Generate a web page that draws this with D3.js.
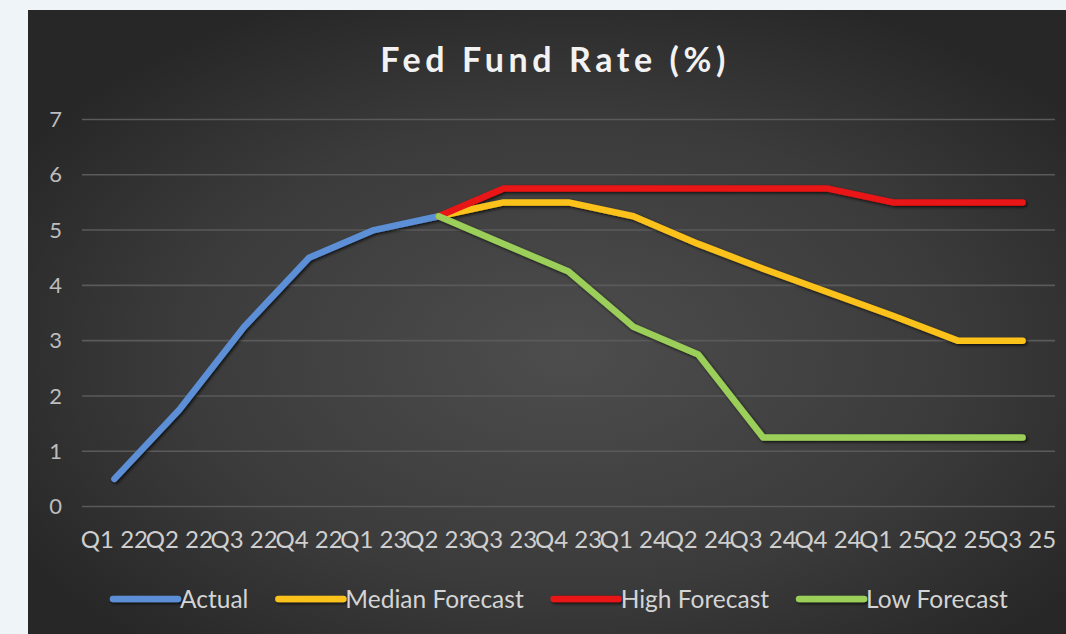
<!DOCTYPE html>
<html>
<head>
<meta charset="utf-8">
<script src="https://cdn.jsdelivr.net/npm/d3@7"></script>
<style>
  html, body { margin: 0; padding: 0; background: #eef4f8; }
  svg { display: block; }
</style>
</head>
<body>
<svg id="chart" width="1066" height="634"></svg>
<script>
// Quarterly fed funds rate: actual path and forecast ranges
const categories = ["Q1 22","Q2 22","Q3 22","Q4 22","Q1 23","Q2 23","Q3 23","Q4 23",
                    "Q1 24","Q2 24","Q3 24","Q4 24","Q1 25","Q2 25","Q3 25"];
const actual   = [0.5, 1.75, 3.25, 4.5, 5.0, 5.25, null, null, null, null, null, null, null, null, null];
const median   = [null, null, null, null, null, 5.25, 5.5, 5.5, 5.25, 4.75, 4.3, 3.875, 3.45, 3.0, 3.0];
const high     = [null, null, null, null, null, 5.25, 5.75, 5.75, 5.75, 5.75, 5.75, 5.75, 5.5, 5.5, 5.5];
const low      = [null, null, null, null, null, 5.25, 4.75, 4.25, 3.25, 2.75, 1.25, 1.25, 1.25, 1.25, 1.25];
const yTicks   = [0, 1, 2, 3, 4, 5, 6, 7];
const seriesNames  = ["Actual", "Median Forecast", "High Forecast", "Low Forecast"];
const seriesColors = ["#5b8fd6", "#fcc21c", "#e81414", "#9bcf5a"];
const seriesValues = [actual, median, high, low];

const svg = d3.select("#chart");
const W = 1066, H = 634;
const panel = { x: 28, y: 10, w: W - 28, h: H - 10 };
const plot = { left: 82, right: 1055, top: 119.5, bottom: 506.5 };
const font = "Lato, 'Open Sans', sans-serif";

const defs = svg.append("defs");
const grad = defs.append("radialGradient")
  .attr("id", "bg").attr("cx", "52%").attr("cy", "55%").attr("r", "62%");
grad.append("stop").attr("offset", "0%").attr("stop-color", "#4d4d4d");
grad.append("stop").attr("offset", "60%").attr("stop-color", "#3b3b3b");
grad.append("stop").attr("offset", "100%").attr("stop-color", "#272727");

// soft drop shadow under the series strokes (user-space region so flat lines keep it)
const shadow = defs.append("filter").attr("id", "shadow")
  .attr("filterUnits", "userSpaceOnUse")
  .attr("x", 0).attr("y", 0).attr("width", W).attr("height", H);
shadow.append("feDropShadow").attr("dx", 1.5).attr("dy", 1.5)
  .attr("stdDeviation", 1.4).attr("flood-color", "#000").attr("flood-opacity", 0.75);

// dark chart panel
svg.append("rect").attr("x", panel.x).attr("y", panel.y)
  .attr("width", panel.w).attr("height", panel.h).attr("fill", "url(#bg)");

const x = d3.scaleBand().domain(categories).range([plot.left, plot.right]);
const cx = d => x(d) + x.bandwidth() / 2;
const y = d3.scaleLinear().domain([0, 7]).range([plot.bottom, plot.top]);

// horizontal gridlines
svg.append("g").selectAll("line").data(yTicks).join("line")
  .attr("x1", plot.left).attr("x2", plot.right)
  .attr("y1", d => y(d)).attr("y2", d => y(d))
  .attr("stroke", "#5a5a5a").attr("stroke-width", 1.6);

// y tick labels
svg.append("g").selectAll("text").data(yTicks).join("text")
  .attr("x", 62).attr("y", d => y(d)).attr("dy", "0.35em")
  .attr("text-anchor", "end")
  .attr("font-family", font).attr("font-size", 22)
  .attr("fill", "#bdbdbd").text(d => d);

// x category labels
svg.append("g").selectAll("text").data(categories).join("text")
  .attr("x", d => cx(d)).attr("y", 548)
  .attr("text-anchor", "middle")
  .attr("font-family", font).attr("font-size", 24)
  .attr("fill", "#cfcfcf").text(d => d);

// title
svg.append("text")
  .attr("x", 555).attr("y", 72)
  .attr("text-anchor", "middle")
  .attr("font-family", font).attr("font-size", 34).attr("font-weight", 700)
  .attr("letter-spacing", 4.6)
  .attr("fill", "#f2f2f2").text("Fed Fund Rate (%)");

// series lines
const line = d3.line()
  .defined(d => d.v !== null)
  .x(d => cx(d.c)).y(d => y(d.v));

svg.append("g").attr("filter", "url(#shadow)")
  .selectAll("path").data(seriesValues).join("path")
  .attr("d", vals => line(vals.map((v, i) => ({ c: categories[i], v }))))
  .attr("fill", "none")
  .attr("stroke", (d, i) => seriesColors[i])
  .attr("stroke-width", 6.5)
  .attr("stroke-linejoin", "round")
  .attr("stroke-linecap", "round");

// legend
const legend = svg.append("g");
let lx = 113;
const ly = 599;
seriesNames.forEach((name, i) => {
  legend.append("line")
    .attr("x1", lx).attr("x2", lx + 65).attr("y1", ly).attr("y2", ly)
    .attr("stroke", seriesColors[i]).attr("stroke-width", 6.5)
    .attr("stroke-linecap", "round")
    .attr("filter", "url(#shadow)");
  const t = legend.append("text")
    .attr("x", lx + 67).attr("y", ly).attr("dy", "0.35em")
    .attr("font-family", font).attr("font-size", 24.5)
    .attr("fill", "#d4d4d4").text(name);
  lx += 67 + t.node().getComputedTextLength() + 30;
});
</script>
</body>
</html>
